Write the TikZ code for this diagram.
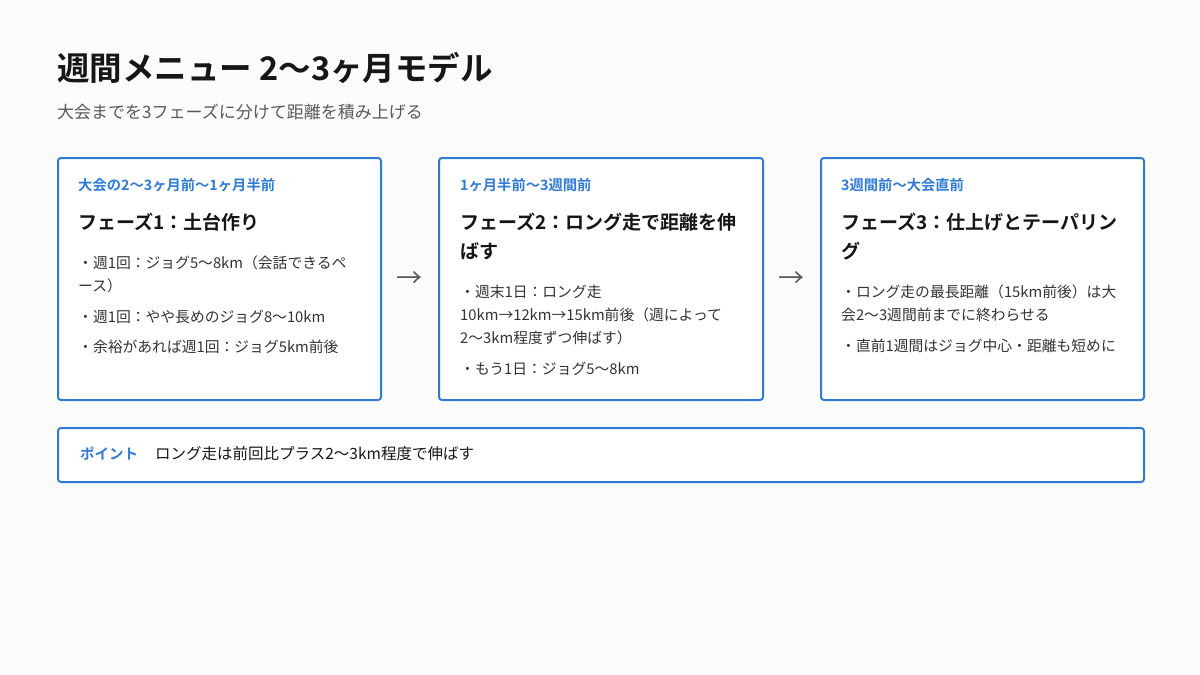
\documentclass[tikz,border=0pt]{standalone}
\usepackage{fontspec}
\setmainfont{Noto Sans CJK JP}[BoldFont={Noto Sans CJK JP Bold}]
\definecolor{bg}{HTML}{FBFBF9}
\definecolor{accent}{HTML}{2F7BD6}
\definecolor{ink}{HTML}{161616}
\definecolor{bodyc}{HTML}{333333}
\definecolor{subc}{HTML}{595959}
\begin{document}
\begin{tikzpicture}[x=1pt,y=-1pt,
  card/.style={draw=accent,fill=white,line width=2pt,rounded corners=3pt,anchor=north west,inner sep=0pt},
  ttl/.style={anchor=base west,inner sep=0pt,text=ink,font=\fontsize{32.5}{36}\selectfont\bfseries},
  subt/.style={anchor=base west,inner sep=0pt,text=subc,font=\fontsize{17}{20}\selectfont},
  lab/.style={anchor=base west,inner sep=0pt,text=accent,font=\fontsize{14.3}{16}\selectfont\bfseries},
  head/.style={anchor=base west,inner sep=0pt,text=ink,font=\fontsize{19}{24}\selectfont\bfseries},
  item/.style={anchor=base west,inner sep=0pt,text=bodyc,font=\fontsize{14.8}{20}\selectfont},
  note/.style={anchor=base west,inner sep=0pt,text=ink,font=\fontsize{15.5}{20}\selectfont},
  pt/.style={anchor=base west,inner sep=0pt,text=accent,font=\fontsize{14.5}{20}\selectfont\bfseries},
  arr/.style={inner sep=0pt,text=subc,font=\fontsize{26}{30}\selectfont}]
\fill[bg] (0,0) rectangle (1200,675);
\useasboundingbox (0,0) rectangle (1200,675);

\node[ttl] (title) at (57,80.5) {週間メニュー 2〜3ヶ月モデル};
\node[subt] (subtitle) at (57,118) {大会までを3フェーズに分けて距離を積み上げる};

% cards
\node[card,minimum width=323pt,minimum height=242pt] (c1) at (57,157) {};
\node[card,minimum width=324pt,minimum height=242pt] (c2) at (438,157) {};
\node[card,minimum width=323pt,minimum height=242pt] (c3) at (820,157) {};
\node[card,minimum width=1086pt,minimum height=54pt] (c4) at (57,427) {};

% arrows
\node[arr] (a1) at (409,280) {→};
\node[arr] (a2) at (791,280) {→};

% card 1
\node[lab] (l1) at (78,190) {大会の2〜3ヶ月前〜1ヶ月半前};
\node[head] (h1) at (78,229) {フェーズ1：土台作り};
\node[item] (i11) at (78,268.5) {・週1回：ジョグ5〜8km（会話できるペ};
\node[item] (i11b) at (78,291.5) {ース）};
\node[item] (i12) at (78,322.5) {・週1回：やや長めのジョグ8〜10km};
\node[item] (i13) at (78,352.5) {・余裕があれば週1回：ジョグ5km前後};

% card 2
\node[lab] (l2) at (460,190) {1ヶ月半前〜3週間前};
\node[head] (h2) at (460,229) {フェーズ2：ロング走で距離を伸};
\node[head] (h2b) at (460,258) {ばす};
\node[item] (i21) at (460,297.5) {・週末1日：ロング走};
\node[item] (i21b) at (460,320.5) {10km→12km→15km前後（週によって};
\node[item] (i21c) at (460,343.5) {2〜3km程度ずつ伸ばす）};
\node[item] (i22) at (460,374.5) {・もう1日：ジョグ5〜8km};

% card 3
\node[lab] (l3) at (841,190) {3週間前〜大会直前};
\node[head] (h3) at (841,229) {フェーズ3：仕上げとテーパリン};
\node[head] (h3b) at (841,258) {グ};
\node[item] (i31) at (841,297.5) {・ロング走の最長距離（15km前後）は大};
\node[item] (i31b) at (841,320.5) {会2〜3週間前までに終わらせる};
\node[item] (i32) at (841,351.5) {・直前1週間はジョグ中心・距離も短めに};

% point
\node[pt] (p1) at (80,459.5) {ポイント};
\node[note] (p2) at (155,459.5) {ロング走は前回比プラス2〜3km程度で伸ばす};
\end{tikzpicture}
\end{document}
